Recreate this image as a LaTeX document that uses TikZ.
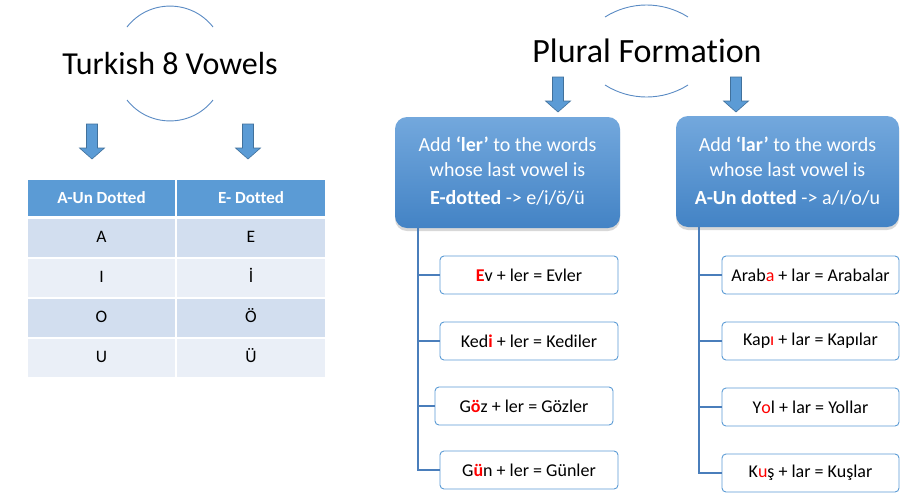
\documentclass[tikz,border=0pt]{standalone}
\usepackage{fontspec}
\setmainfont{Carlito}[Ligatures={NoCommon}]
\usetikzlibrary{shadows}
\definecolor{hdr}{HTML}{5B9BD5}
\definecolor{rowa}{HTML}{D2DEEF}
\definecolor{rowb}{HTML}{EAEFF7}
\definecolor{arcc}{HTML}{5A8BC4}
\definecolor{arrfill}{HTML}{5B9BD5}
\definecolor{arrline}{HTML}{41719C}
\definecolor{treec}{HTML}{4A7EBB}
\definecolor{gtop}{HTML}{73A8DD}
\definecolor{gbot}{HTML}{4383C5}
\definecolor{exline}{HTML}{5B9BD5}
\definecolor{hred}{HTML}{FF0000}
\newcommand{\redb}[1]{\textcolor{hred}{\textbf{#1}}}
\newcommand{\redn}[1]{\textcolor{hred}{#1}}
\tikzset{
  arcline/.style={draw=arcc, line width=0.9pt},
  barrow/.pic={\draw[fill=arrfill, draw=arrline, line width=0.6pt]
     (-5.5,0) -- (5.5,0) -- (5.5,24) -- (12.5,24) -- (0,35) -- (-12.5,24) -- (-5.5,24) -- cycle;},
  hcell/.style={rectangle, fill=hdr, draw=white, line width=1.5pt, minimum height=38, inner sep=0,
     text=white, font=\fontsize{17}{19}\selectfont\bfseries},
  cella/.style={rectangle, fill=rowa, draw=white, line width=1.5pt, minimum height=40, inner sep=0,
     font=\fontsize{17.5}{19}\selectfont},
  cellb/.style={cella, fill=rowb},
  celltext/.style={inner sep=0, font=\fontsize{17.5}{19}\selectfont, anchor=base},
  bluebox/.style={rectangle, rounded corners=12, top color=gtop, bottom color=gbot, draw=none,
     minimum width=225, minimum height=111, inner sep=0,
     drop shadow={opacity=0.3, shadow xshift=0pt, shadow yshift=-3pt}},
  boxtext/.style={inner sep=0, text=white, align=center, font=\fontsize{20}{25}\selectfont, anchor=north},
  exbox/.style={rectangle, draw=exline, rounded corners=4, line width=0.9pt, fill=white,
     minimum width=178, minimum height=38, inner sep=0, font=\fontsize{18}{20}\selectfont},
  tree/.style={draw=treec, line width=1.1pt},
  title/.style={inner sep=0}
}
\begin{document}
\begin{tikzpicture}[x=1pt,y=-1pt]
\useasboundingbox[fill=white] (0,0) rectangle (915,496);

% ---- left part ----
\draw[arcline] (127,27) .. controls (148.8,-0.9) and (191.2,-0.9) .. (213,27);
\draw[arcline] (127,100) .. controls (148.8,127.9) and (191.2,127.9) .. (213,100);
\node[title, font=\fontsize{32}{38}\selectfont] (t1) at (170,64) {Turkish 8 Vowels};
\pic at (92,124) {barrow};
\pic at (248,124) {barrow};

\node[hcell, minimum width=149] (h1) at (101.5,198) {A-Un Dotted};
\node[hcell, minimum width=150] (h2) at (251,198) {E- Dotted};
\draw[white, line width=2pt] (27,218) -- (326,218);
\node[cella, minimum width=149] (a1) at (101.5,238) {};
\node[cella, minimum width=150] (b1) at (251,238) {};
\node[cellb, minimum width=149] (a2) at (101.5,278) {};
\node[cellb, minimum width=150] (b2) at (251,278) {};
\node[cella, minimum width=149] (a3) at (101.5,318) {};
\node[cella, minimum width=150] (b3) at (251,318) {};
\node[cellb, minimum width=149] (a4) at (101.5,358) {};
\node[cellb, minimum width=150] (b4) at (251,358) {};
\node[celltext] (ta1) at (a1.center |- 0,242) {A};
\node[celltext] (tb1) at (b1.center |- 0,242) {E};
\node[celltext] (ta2) at (a2.center |- 0,282) {I};
\node[celltext] (tb2) at (b2.center |- 0,282) {İ};
\node[celltext] (ta3) at (a3.center |- 0,322) {O};
\node[celltext] (tb3) at (b3.center |- 0,322) {Ö};
\node[celltext] (ta4) at (a4.center |- 0,362) {U};
\node[celltext] (tb4) at (b4.center |- 0,362) {Ü};

% ---- right part ----
\draw[arcline] (605,17) .. controls (630.3,1) and (662.7,1) .. (688,17);
\draw[arcline] (605,85) .. controls (630.3,101) and (662.7,101) .. (688,85);
\node[title, font=\fontsize{34}{40}\selectfont] (t2) at (647,51) {Plural Formation};
\pic at (558,77) {barrow};
\pic at (736,77) {barrow};

\node[bluebox] (lbox) at (507.5,172.5) {};
\node[bluebox, minimum width=223] (rbox) at (787.5,171.5) {};
\node[boxtext] (ltext) at (507.5,137) {Add \textbf{‘ler’} to the words\\ whose last vowel is\\[3pt] \textbf{E-dotted} -> e/i/ö/ü};
\node[boxtext] (rtext) at (787.5,137) {Add \textbf{‘lar’} to the words\\ whose last vowel is\\[3pt] \textbf{A-Un dotted} -> a/ı/o/u};

\node[exbox] (e1) at (529,275) {\redb{E}v + ler = Evler};
\node[exbox] (e2) at (529,341) {Ked\redb{i} + ler = Kediler};
\node[exbox] (e3) at (524,406) {G\redb{ö}z + ler = Gözler};
\node[exbox] (e4) at (529,470) {G\redb{ü}n + ler = Günler};

\node[exbox, minimum width=177] (r1) at (810.5,275) {Arab\redn{a} + lar = Arabalar};
\node[exbox, minimum width=177] (r2) at (810.5,341) {Kap\redn{ı} + lar = Kapılar};
\node[exbox, minimum width=177] (r3) at (810.5,407) {Y\redn{o}l + lar = Yollar};
\node[exbox, minimum width=177] (r4) at (810.5,473) {K\redn{u}ş + lar = Kuşlar};

\coordinate (lt) at (lbox.south -| 418,0);
\coordinate (rt) at (rbox.south -| 699,0);
\draw[tree] (lt) |- (e1.west);
\draw[tree] (lt) |- (e2.west);
\draw[tree] (lt) |- (e3.west);
\draw[tree] (lt) |- (e4.west);
\draw[tree] (rt) |- (r1.west);
\draw[tree] (rt) |- (r2.west);
\draw[tree] (rt) |- (r3.west);
\draw[tree] (rt) |- (r4.west);
\end{tikzpicture}
\end{document}
